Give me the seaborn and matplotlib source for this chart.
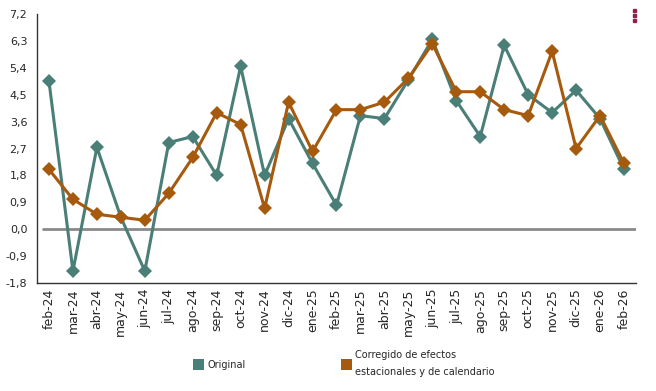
import numpy as np
import pandas as pd
import matplotlib
matplotlib.use("Agg")
import matplotlib.pyplot as plt
from matplotlib.patches import Patch
import seaborn as sns

# Data
months = ["feb-24", "mar-24", "abr-24", "may-24", "jun-24", "jul-24", "ago-24", "sep-24",
          "oct-24", "nov-24", "dic-24", "ene-25", "feb-25", "mar-25", "abr-25", "may-25",
          "jun-25", "jul-25", "ago-25", "sep-25", "oct-25", "nov-25", "dic-25", "ene-26", "feb-26"]
original = [4.95, -1.4, 2.74, 0.4, -1.4, 2.9, 3.1, 1.8,
            5.45, 1.8, 3.7, 2.2, 0.8, 3.8, 3.7, 5.0,
            6.35, 4.3, 3.1, 6.15, 4.5, 3.9, 4.65, 3.7, 2.0]
corregido = [2.0, 1.0, 0.5, 0.4, 0.3, 1.2, 2.4, 3.9,
             3.5, 0.7, 4.25, 2.6, 4.0, 4.0, 4.25, 5.05,
             6.2, 4.6, 4.6, 4.0, 3.8, 5.95, 2.7, 3.8, 2.2]
series_names = ["Original", "Corregido de efectos\nestacionales y de calendario"]
colors = ["#4a7f78", "#a65a0e"]
yticks = [-1.8, -0.9, 0.0, 0.9, 1.8, 2.7, 3.6, 4.5, 5.4, 6.3, 7.2]

df = pd.DataFrame({
    "pos": list(range(len(months))) * 2,
    "valor": original + corregido,
    "serie": [series_names[0]] * len(months) + [series_names[1]] * len(months),
})

sns.set_style("white")
plt.rcParams["font.family"] = ["DejaVu Sans"]

fig = plt.figure(figsize=(6.56, 3.91), dpi=100)
ax = fig.add_axes([0.0564, 0.2762, 0.9131, 0.688])

ax.axhline(0, color="#8a8a8a", lw=2, xmin=0.01, zorder=1)

sns.lineplot(data=df, x="pos", y="valor", hue="serie", palette=colors,
             marker="D", markersize=7, markeredgewidth=0, linewidth=2.2,
             legend=False, ax=ax, zorder=3)

ax.set_xlim(-0.5, len(months) - 0.5)
ax.set_ylim(-1.8, 7.2)
ax.set_yticks(yticks)
ax.set_yticklabels([f"{v:.1f}".replace(".", ",") for v in yticks], fontsize=8)
ax.set_xticks(range(len(months)))
ax.set_xticklabels(months, rotation=90, fontsize=9)
ax.set_xticks(np.arange(-0.5, len(months)), minor=True)
ax.tick_params(axis="x", which="major", length=0, pad=4)
ax.tick_params(axis="x", which="minor", length=8, width=1, color="black", direction="out")
ax.tick_params(axis="y", length=5, width=1, color="black", direction="out", pad=2)
ax.set_xlabel("")
ax.set_ylabel("")

for side in ["top", "right"]:
    ax.spines[side].set_visible(False)
for side in ["left", "bottom"]:
    ax.spines[side].set_color("#333333")
    ax.spines[side].set_linewidth(1)

handles = [Patch(facecolor=c, edgecolor="none") for c in colors]
leg = fig.legend(handles, series_names, loc="center", bbox_to_anchor=(0.524, 0.07), ncol=2,
                 frameon=False, fontsize=7, handlelength=1.2, handleheight=1.3,
                 handletextpad=0.3, columnspacing=9.8)
for t in leg.get_texts():
    t.set_linespacing(1.9)

# menu dots top right
for yy in [0.975, 0.962, 0.949]:
    fig.patches.append(plt.Rectangle((0.965, yy - 0.006), 0.005, 0.009,
                                     transform=fig.transFigure, color="#8b2252"))

fig.savefig("out.png", dpi=100)
